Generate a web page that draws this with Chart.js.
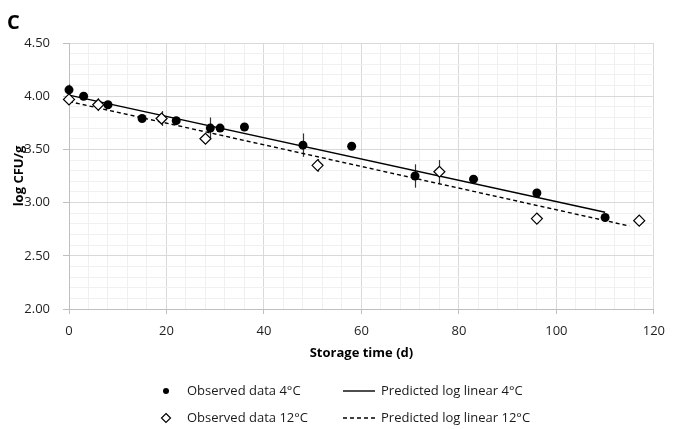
<!DOCTYPE html>
<html><head><meta charset="utf-8">
<script src="https://cdn.jsdelivr.net/npm/chart.js@4/dist/chart.umd.min.js"></script>
<style>html,body{margin:0;padding:0;background:#fff}#wrap{width:674px;height:429px;position:relative}</style>
</head><body><div id="wrap"><canvas id="c" width="674" height="429"></canvas></div>
<script>
// Observed data 4°C
const days4 = [0, 3, 8, 15, 22, 29, 31, 36, 48, 58, 71, 83, 96, 110];
const obs4  = [4.06, 4.00, 3.92, 3.79, 3.77, 3.70, 3.70, 3.71, 3.54, 3.53, 3.25, 3.22, 3.09, 2.86];
const err4  = [0.05, 0.02, 0.02, 0.02, 0.02, 0.10, 0.02, 0.03, 0.11, 0.03, 0.11, 0.02, 0.04, 0.02];
// Observed data 12°C
const days12 = [0, 6, 19, 28, 51, 76, 96, 117];
const obs12  = [3.97, 3.92, 3.79, 3.60, 3.35, 3.29, 2.85, 2.83];
const err12  = [0.05, 0.06, 0.07, 0.03, 0.06, 0.11, 0.05, 0.02];
// Predicted log linear (line end points)
const predDays4 = [0, 110];
const pred4     = [4.01, 2.91];
const predDays12 = [0, 115];
const pred12     = [3.95, 2.78];
// Tick settings
const xMajor = [0, 20, 40, 60, 80, 100, 120];
const yMajor = [2.00, 2.50, 3.00, 3.50, 4.00, 4.50];

const legendLabels = ['Observed data 4°C', 'Predicted log linear 4°C', 'Observed data 12°C', 'Predicted log linear 12°C'];
const panelLabel = 'C';

const pts = (xs, ys) => xs.map((x, i) => ({x: x, y: ys[i]}));
const isMajorX = v => xMajor.some(m => Math.abs(m - v) < 1e-6);
const isMajorY = v => yMajor.some(m => Math.abs(m - v) < 1e-6);
const FONT = '"Open Sans", "Liberation Sans", sans-serif';

const errPlugin = {
  id: 'errbars',
  beforeDatasetsDraw(chart) {
    const {ctx, scales: {x, y}} = chart;
    ctx.save();
    ctx.strokeStyle = '#333';
    ctx.lineWidth = 1.2;
    const draw = (xs, ys, es) => {
      xs.forEach((d, i) => {
        const px = Math.round(x.getPixelForValue(d)) + 0.5;
        ctx.beginPath();
        ctx.moveTo(px, y.getPixelForValue(ys[i] + es[i]));
        ctx.lineTo(px, y.getPixelForValue(ys[i] - es[i]));
        ctx.stroke();
      });
    };
    draw(days4, obs4, err4);
    draw(days12, obs12, err12);
    ctx.restore();
  },
  afterDraw(chart) {
    const ctx = chart.ctx;
    ctx.save();
    // panel label
    ctx.fillStyle = '#000';
    ctx.font = 'bold 20px ' + FONT;
    ctx.textBaseline = 'alphabetic';
    ctx.textAlign = 'left';
    ctx.fillText(panelLabel, 7, 29);
    // legend
    ctx.font = '13px ' + FONT;
    ctx.textBaseline = 'middle';
    const r1 = 391, r2 = 418;
    // filled circle
    ctx.beginPath(); ctx.arc(166, r1, 3, 0, Math.PI * 2); ctx.fillStyle = '#000'; ctx.fill();
    // diamond
    ctx.beginPath();
    ctx.moveTo(166, r2 - 4.5); ctx.lineTo(170.5, r2); ctx.lineTo(166, r2 + 4.5); ctx.lineTo(161.5, r2); ctx.closePath();
    ctx.fillStyle = '#fff'; ctx.fill(); ctx.strokeStyle = '#000'; ctx.lineWidth = 1.2; ctx.stroke();
    // lines
    ctx.strokeStyle = '#000'; ctx.lineWidth = 1.4;
    ctx.beginPath(); ctx.moveTo(343, r1); ctx.lineTo(375, r1); ctx.stroke();
    ctx.setLineDash([4, 3]);
    ctx.beginPath(); ctx.moveTo(343, r2); ctx.lineTo(375, r2); ctx.stroke();
    ctx.setLineDash([]);
    ctx.fillStyle = '#1a1a1a';
    ctx.fillText(legendLabels[0], 187, r1);
    ctx.fillText(legendLabels[1], 381, r1);
    ctx.fillText(legendLabels[2], 187, r2);
    ctx.fillText(legendLabels[3], 381, r2);
    ctx.restore();
  }
};

new Chart(document.getElementById('c'), {
  type: 'scatter',
  data: {
    datasets: [
      {label: legendLabels[0], data: pts(days4, obs4), showLine: false, pointStyle: 'circle', pointRadius: 4.5,
       backgroundColor: '#000', borderColor: '#000', borderWidth: 0, order: 1, clip: false},
      {label: legendLabels[2], data: pts(days12, obs12), showLine: false, pointStyle: 'rectRot', pointRadius: 5.5,
       backgroundColor: '#fff', borderColor: '#000', borderWidth: 1.2, order: 0, clip: false},
      {label: legendLabels[1], data: pts(predDays4, pred4), showLine: true, pointRadius: 0,
       borderColor: '#000', borderWidth: 1.5, backgroundColor: '#000', order: 3, clip: false},
      {label: legendLabels[3], data: pts(predDays12, pred12), showLine: true, pointRadius: 0,
       borderColor: '#000', borderWidth: 1.4, borderDash: [4, 3], backgroundColor: '#000', order: 4, clip: false}
    ]
  },
  options: {
    responsive: false,
    animation: false,
    devicePixelRatio: 1,
    layout: {padding: {top: 43, right: 16, left: 11, bottom: 68}},
    plugins: {legend: {display: false}, tooltip: {enabled: false}, title: {display: false}},
    scales: {
      x: {
        type: 'linear', min: 0, max: 120,
        ticks: {stepSize: 4, autoSkip: false, maxRotation: 0, padding: 9, color: '#1f1f1f',
                font: {family: FONT, size: 13},
                callback: v => isMajorX(v) ? String(Math.round(v)) : ''},
        grid: {color: c => (c.tick && isMajorX(c.tick.value)) ? '#d9d9d9' : '#f0f0f0',
               tickColor: c => (c.tick && isMajorX(c.tick.value)) ? '#bfbfbf' : 'rgba(0,0,0,0)',
               tickLength: 5, lineWidth: 1},
        border: {color: '#bfbfbf', width: 1},
        title: {display: true, text: 'Storage time (d)', color: '#000', padding: {top: 0, bottom: 0},
                font: {family: FONT, size: 13, weight: 'bold'}},
        afterFit: s => { s.height = 52; }
      },
      y: {
        type: 'linear', min: 2, max: 4.5,
        ticks: {stepSize: 0.1, autoSkip: false, padding: 13, color: '#1f1f1f',
                font: {family: FONT, size: 13},
                callback: v => isMajorY(v) ? Number(v).toFixed(2) : ''},
        grid: {color: c => (c.tick && isMajorY(c.tick.value)) ? '#d9d9d9' : '#f0f0f0',
               tickColor: c => (c.tick && isMajorY(c.tick.value)) ? '#bfbfbf' : 'rgba(0,0,0,0)',
               tickLength: 6, lineWidth: 1},
        border: {color: '#bfbfbf', width: 1},
        title: {display: true, text: 'log CFU/g', color: '#000', padding: {top: 0, bottom: 0},
                font: {family: FONT, size: 13, weight: 'bold'}},
        afterFit: s => { s.width = 58; }
      }
    }
  },
  plugins: [errPlugin]
});
</script>
</body></html>
